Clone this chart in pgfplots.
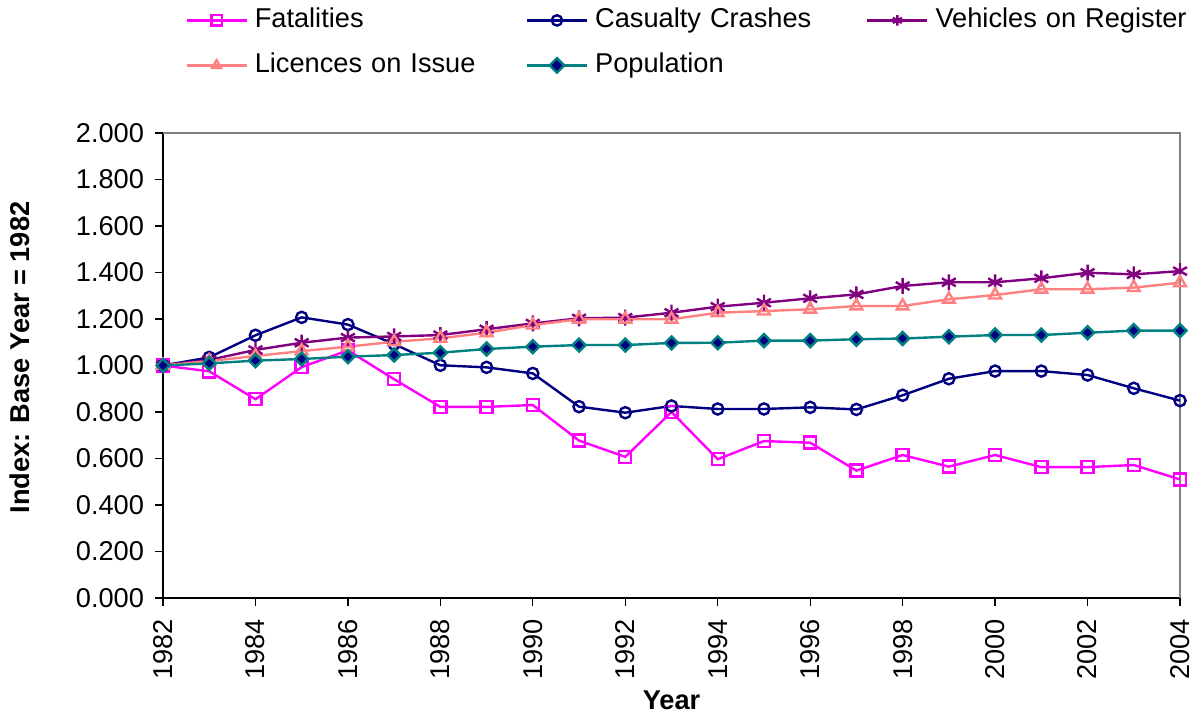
\documentclass[border=0pt]{standalone}
\usepackage{pgfplots}
\pgfplotsset{compat=1.18}
\usepackage{fontspec}
\setmainfont{Liberation Sans}
\usetikzlibrary{plotmarks}
\definecolor{cFat}{HTML}{FF00FF}
\definecolor{cCas}{HTML}{000080}
\definecolor{cVeh}{HTML}{800080}
\definecolor{cLic}{HTML}{FF8080}
\definecolor{cPop}{HTML}{008080}
\newcommand{\fs}{\fontsize{13.6}{16}\selectfont}
\begin{document}
\begin{tikzpicture}
\path[use as bounding box] (0pt,0pt) rectangle (601pt,359.5pt);
\begin{axis}[
  at={(81.5pt,60.5pt)}, anchor=south west,
  scale only axis, width=508.5pt, height=232.5pt,
  xmin=1982, xmax=2004, ymin=0, ymax=2,
  axis x line*=bottom, axis y line*=left,
  axis line style={black, line width=0.8pt},
  xtick={1982,1984,...,2004}, minor x tick num=1,
  ytick={0,0.2,...,2.01},
  tick align=outside, major tick length=4pt, minor tick length=4pt,
  tick style={black, line width=0.6pt},
  /pgf/number format/assume math mode=true,
  /pgf/number format/1000 sep={},
  yticklabel style={/pgf/number format/fixed, /pgf/number format/fixed zerofill, /pgf/number format/precision=3, xshift=-2pt},
  tick label style={font=\fs},
  xticklabel style={rotate=90, anchor=east, xshift=-3pt},
  clip=false,
  legend columns=3,
  legend style={at={(0.0216,1.2914)}, anchor=north west, draw=none, fill=none,
    inner sep=0pt, font=\fs,
    nodes={text width=132pt, align=left, inner xsep=3.5pt, inner ysep=4.75pt, text height=10pt, text depth=3pt}},
  legend cell align=left,
  legend image code/.code={\draw[mark repeat=2, mark phase=2, mark size=2.6pt] plot coordinates {(0pt,0pt) (15pt,0pt) (30pt,0pt)};},
]
\draw[gray, line width=0.6pt] (rel axis cs:0,1) -- (rel axis cs:1,1) -- (rel axis cs:1,0);
\node[font=\fs\bfseries, anchor=center] at ([yshift=-51pt]rel axis cs:0.5,0) {Year};
\node[font=\fs\bfseries, anchor=center, rotate=90] at ([xshift=-71.5pt,yshift=4pt]rel axis cs:0,0.5) {Index: Base Year = 1982};
\addplot[cFat, line width=1.2pt, mark=square, mark size=3pt, mark options={solid}] coordinates {
(1982,1.000) (1983,0.975) (1984,0.855) (1985,0.993) (1986,1.065) (1987,0.941) (1988,0.822) (1989,0.822) (1990,0.830) (1991,0.677) (1992,0.607) (1993,0.800) (1994,0.597) (1995,0.675) (1996,0.668) (1997,0.548) (1998,0.615) (1999,0.565) (2000,0.615) (2001,0.563) (2002,0.563) (2003,0.572) (2004,0.510)};
\addlegendentry{Fatalities}
\addplot[cCas, line width=1.2pt, mark=o, mark size=2.8pt] coordinates {
(1982,1.000) (1983,1.035) (1984,1.130) (1985,1.207) (1986,1.176) (1987,1.092) (1988,1.001) (1989,0.992) (1990,0.966) (1991,0.823) (1992,0.797) (1993,0.826) (1994,0.813) (1995,0.813) (1996,0.820) (1997,0.811) (1998,0.872) (1999,0.943) (2000,0.976) (2001,0.976) (2002,0.959) (2003,0.902) (2004,0.849)};
\addlegendentry{Casualty Crashes}
\addplot[cVeh, line width=1.2pt, mark=asterisk, mark size=4pt] coordinates {
(1982,1.000) (1983,1.024) (1984,1.067) (1985,1.098) (1986,1.120) (1987,1.125) (1988,1.131) (1989,1.156) (1990,1.181) (1991,1.203) (1992,1.206) (1993,1.227) (1994,1.253) (1995,1.270) (1996,1.289) (1997,1.306) (1998,1.342) (1999,1.358) (2000,1.358) (2001,1.375) (2002,1.399) (2003,1.392) (2004,1.406)};
\addlegendentry{Vehicles on Register}
\addplot[cLic, line width=1.2pt, mark=triangle, mark size=3.4pt] coordinates {
(1982,1.000) (1983,1.019) (1984,1.041) (1985,1.062) (1986,1.081) (1987,1.102) (1988,1.117) (1989,1.141) (1990,1.174) (1991,1.199) (1992,1.199) (1993,1.199) (1994,1.227) (1995,1.234) (1996,1.242) (1997,1.256) (1998,1.256) (1999,1.285) (2000,1.303) (2001,1.328) (2002,1.328) (2003,1.335) (2004,1.356)};
\addlegendentry{Licences on Issue}
\addplot[cPop, line width=1.2pt, mark=square*, mark size=2.3pt, mark options={rotate=45, fill=cCas, draw=cPop}] coordinates {
(1982,1.000) (1983,1.009) (1984,1.021) (1985,1.028) (1986,1.038) (1987,1.045) (1988,1.055) (1989,1.071) (1990,1.081) (1991,1.088) (1992,1.088) (1993,1.097) (1994,1.098) (1995,1.107) (1996,1.107) (1997,1.113) (1998,1.116) (1999,1.124) (2000,1.131) (2001,1.131) (2002,1.141) (2003,1.150) (2004,1.150)};
\addlegendentry{Population}
\end{axis}
\end{tikzpicture}
\end{document}
